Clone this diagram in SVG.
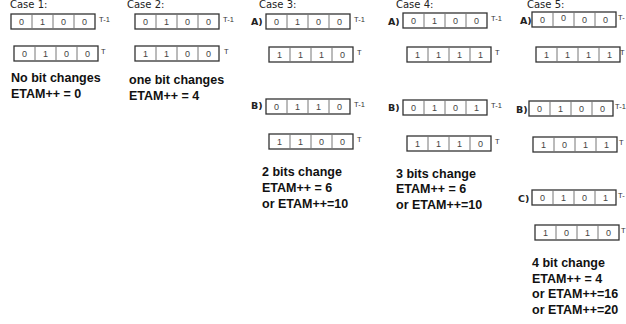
<svg xmlns="http://www.w3.org/2000/svg" width="626" height="324" viewBox="0 0 626 324">
<style>
.bg{fill:#fff}
.box{fill:#fff;stroke:#333;stroke-width:1.3}
.div{stroke:#777;stroke-width:1}
.bit{font-family:"Liberation Sans",Arial,sans-serif;font-size:9px;fill:#444;text-anchor:middle}
.tl{font-family:"Liberation Sans",Arial,sans-serif;font-size:7.5px;fill:#333}
.case{font-family:"DejaVu Sans",sans-serif;font-size:10px;fill:#222}
.lab{font-family:"DejaVu Sans",sans-serif;font-size:9.5px;font-weight:bold;fill:#222}
.txt{font-family:"Liberation Sans",Arial,sans-serif;font-size:12.5px;font-weight:bold;fill:#111}
</style>
<defs>
<g id="reg">
<rect class="box" x="0" y="0" width="84" height="15"/>
<line class="div" x1="21" y1="0" x2="21" y2="15"/>
<line class="div" x1="42" y1="0" x2="42" y2="15"/>
<line class="div" x1="63" y1="0" x2="63" y2="15"/>
</g>
</defs>
<rect class="bg" width="626" height="324"/>

<g id="case1">
<text class="case" x="10" y="8">Case 1:</text>
<use href="#reg" x="11" y="14"/>
<text class="bit" x="21.5" y="25">0</text><text class="bit" x="42.5" y="25">1</text><text class="bit" x="63.5" y="25">0</text><text class="bit" x="84.5" y="25">0</text>
<text class="tl" x="99" y="22">T-1</text>
<use href="#reg" x="14" y="46"/>
<text class="bit" x="24.5" y="57">0</text><text class="bit" x="45.5" y="57">1</text><text class="bit" x="66.5" y="57">0</text><text class="bit" x="87.5" y="57">0</text>
<text class="tl" x="101" y="54">T</text>
<text class="txt" x="11" y="82">No bit changes</text>
<text class="txt" x="11" y="98">ETAM++ = 0</text>
</g>

<g id="case2">
<text class="case" x="127" y="8">Case 2:</text>
<use href="#reg" x="135" y="14"/>
<text class="bit" x="145.5" y="25">0</text><text class="bit" x="166.5" y="25">1</text><text class="bit" x="187.5" y="25">0</text><text class="bit" x="208.5" y="25">0</text>
<text class="tl" x="223" y="22">T-1</text>
<use href="#reg" x="135" y="46"/>
<text class="bit" x="145.5" y="57">1</text><text class="bit" x="166.5" y="57">1</text><text class="bit" x="187.5" y="57">0</text><text class="bit" x="208.5" y="57">0</text>
<text class="tl" x="224" y="54">T</text>
<text class="txt" x="129" y="84">one bit changes</text>
<text class="txt" x="129" y="100">ETAM++ = 4</text>
</g>

<g id="case3">
<text class="case" x="259" y="8">Case 3:</text>
<text class="lab" x="251" y="25">A)</text>
<use href="#reg" x="266" y="14"/>
<text class="bit" x="276.5" y="25">0</text><text class="bit" x="297.5" y="25">1</text><text class="bit" x="318.5" y="25">0</text><text class="bit" x="339.5" y="25">0</text>
<text class="tl" x="354" y="22">T-1</text>
<use href="#reg" x="269" y="47"/>
<text class="bit" x="279.5" y="58">1</text><text class="bit" x="300.5" y="58">1</text><text class="bit" x="321.5" y="58">1</text><text class="bit" x="342.5" y="58">0</text>
<text class="tl" x="357" y="55">T</text>
<text class="lab" x="251" y="109">B)</text>
<use href="#reg" x="266" y="99"/>
<text class="bit" x="276.5" y="110">0</text><text class="bit" x="297.5" y="110">1</text><text class="bit" x="318.5" y="110">1</text><text class="bit" x="339.5" y="110">0</text>
<text class="tl" x="354" y="107">T-1</text>
<use href="#reg" x="269" y="134"/>
<text class="bit" x="279.5" y="145">1</text><text class="bit" x="300.5" y="145">1</text><text class="bit" x="321.5" y="145">0</text><text class="bit" x="342.5" y="145">0</text>
<text class="tl" x="357" y="142">T</text>
<text class="txt" x="262" y="176">2 bits change</text>
<text class="txt" x="262" y="192">ETAM++ = 6</text>
<text class="txt" x="262" y="208">or ETAM++=10</text>
</g>

<g id="case4">
<text class="case" x="396" y="8">Case 4:</text>
<text class="lab" x="388" y="25">A)</text>
<use href="#reg" x="403" y="13"/>
<text class="bit" x="413.5" y="24">0</text><text class="bit" x="434.5" y="24">1</text><text class="bit" x="455.5" y="24">0</text><text class="bit" x="476.5" y="24">0</text>
<text class="tl" x="491" y="21">T-1</text>
<use href="#reg" x="407" y="47"/>
<text class="bit" x="417.5" y="58">1</text><text class="bit" x="438.5" y="58">1</text><text class="bit" x="459.5" y="58">1</text><text class="bit" x="480.5" y="58">1</text>
<text class="tl" x="495" y="55">T</text>
<text class="lab" x="388" y="111">B)</text>
<use href="#reg" x="403" y="100"/>
<text class="bit" x="413.5" y="111">0</text><text class="bit" x="434.5" y="111">1</text><text class="bit" x="455.5" y="111">0</text><text class="bit" x="476.5" y="111">1</text>
<text class="tl" x="491" y="108">T-1</text>
<use href="#reg" x="407" y="136"/>
<text class="bit" x="417.5" y="147">1</text><text class="bit" x="438.5" y="147">1</text><text class="bit" x="459.5" y="147">1</text><text class="bit" x="480.5" y="147">0</text>
<text class="tl" x="495" y="144">T</text>
<text class="txt" x="396" y="178">3 bits change</text>
<text class="txt" x="396" y="193">ETAM++ = 6</text>
<text class="txt" x="396" y="209">or ETAM++=10</text>
</g>

<g id="case5">
<text class="case" x="527" y="8">Case 5:</text>
<text class="lab" x="520" y="24">A)</text>
<use href="#reg" x="532" y="12"/>
<text class="bit" x="542.5" y="23">0</text><text class="bit" x="563.5" y="21">0</text><text class="bit" x="584.5" y="23">0</text><text class="bit" x="605.5" y="23">0</text>
<text class="tl" x="618" y="20">T-</text>
<use href="#reg" x="536" y="47"/>
<text class="bit" x="546.5" y="58">1</text><text class="bit" x="567.5" y="58">1</text><text class="bit" x="588.5" y="58">1</text><text class="bit" x="609.5" y="58">1</text>
<text class="tl" x="620" y="55">T</text>
<text class="lab" x="516" y="113">B)</text>
<use href="#reg" x="529" y="101"/>
<text class="bit" x="539.5" y="112">0</text><text class="bit" x="560.5" y="112">1</text><text class="bit" x="581.5" y="112">0</text><text class="bit" x="602.5" y="112">0</text>
<text class="tl" x="615" y="109">T-1</text>
<use href="#reg" x="533" y="137"/>
<text class="bit" x="543.5" y="148">1</text><text class="bit" x="564.5" y="148">0</text><text class="bit" x="585.5" y="148">1</text><text class="bit" x="606.5" y="148">1</text>
<text class="tl" x="619" y="145">T</text>
<text class="lab" x="518" y="202">C)</text>
<use href="#reg" x="532" y="190"/>
<text class="bit" x="542.5" y="201">0</text><text class="bit" x="563.5" y="201">1</text><text class="bit" x="584.5" y="201">0</text><text class="bit" x="605.5" y="201">1</text>
<text class="tl" x="618" y="198">T-</text>
<use href="#reg" x="535" y="225"/>
<text class="bit" x="545.5" y="236">1</text><text class="bit" x="566.5" y="236">0</text><text class="bit" x="587.5" y="236">1</text><text class="bit" x="608.5" y="236">0</text>
<text class="tl" x="621" y="233">T</text>
<text class="txt" x="532" y="267">4 bit change</text>
<text class="txt" x="532" y="283">ETAM++ = 4</text>
<text class="txt" x="532" y="298">or ETAM++=16</text>
<text class="txt" x="532" y="314">or ETAM++=20</text>
</g>
</svg>
